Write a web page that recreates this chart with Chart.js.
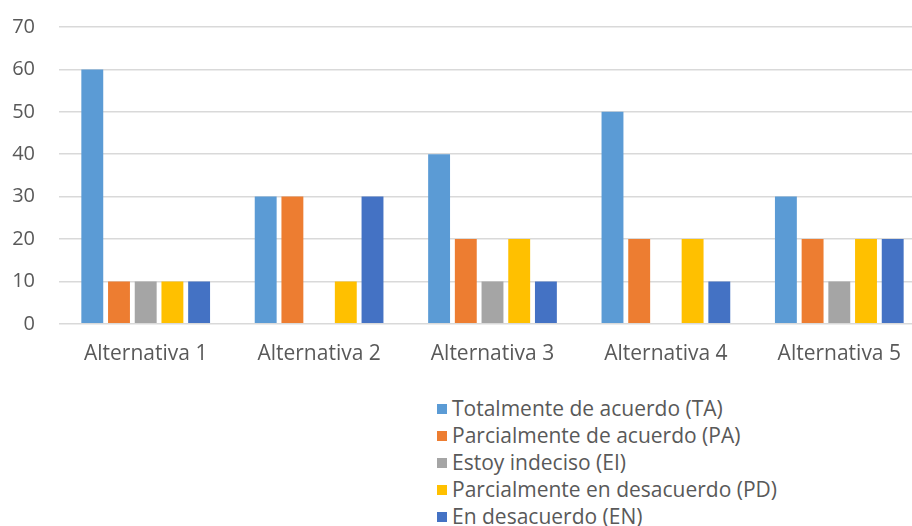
<!DOCTYPE html>
<html>
<head>
<meta charset="utf-8">
<script src="https://cdn.jsdelivr.net/npm/chart.js@4"></script>
<style>
    body { margin: 0; background: #fff; font-family: "Open Sans", sans-serif; }
    #wrap { position: relative; width: 912px; height: 526px; overflow: hidden; }
    #chart { position: absolute; left: 0; top: -9px; }
    #legend { position: absolute; left: 437px; top: 395px; }
    .item { height: 27px; line-height: 27px; font-size: 21px; color: #595959; white-space: nowrap; }
    .box { display: inline-block; width: 10px; height: 10px; margin-right: 5px; vertical-align: 2px; }
</style>
</head>
<body>
<div id="wrap">
    <canvas id="chart" width="926" height="394"></canvas>
    <div id="legend"></div>
</div>
<script>
// Chart data
const categories = ['Alternativa 1', 'Alternativa 2', 'Alternativa 3', 'Alternativa 4', 'Alternativa 5'];
const seriesNames = [
    'Totalmente de acuerdo (TA)',
    'Parcialmente de acuerdo (PA)',
    'Estoy indeciso (EI)',
    'Parcialmente en desacuerdo (PD)',
    'En desacuerdo (EN)'
];
const totalAcuerdo = [60, 30, 40, 50, 30];
const parcialAcuerdo = [10, 30, 20, 20, 20];
const indeciso = [10, 0, 10, 0, 10];
const parcialDesacuerdo = [10, 10, 20, 20, 20];
const desacuerdo = [10, 30, 10, 10, 20];
const yTicks = [0, 10, 20, 30, 40, 50, 60, 70];

const colors = ['#5B9BD5', '#ED7D31', '#A5A5A5', '#FFC000', '#4472C4'];
const values = [totalAcuerdo, parcialAcuerdo, indeciso, parcialDesacuerdo, desacuerdo];

const datasets = seriesNames.map((name, i) => ({
    label: name,
    data: values[i],
    backgroundColor: colors[i],
    borderWidth: 0,
    categoryPercentage: 0.77,
    barPercentage: 0.82
}));

// Vertical legend under the chart
const legend = document.getElementById('legend');
seriesNames.forEach((name, i) => {
    const row = document.createElement('div');
    row.className = 'item';
    row.innerHTML = `<span class="box" style="background:${colors[i]}"></span>${name}`;
    legend.appendChild(row);
});

const ctx = document.getElementById('chart').getContext('2d');
new Chart(ctx, {
    type: 'bar',
    data: {
        labels: categories,
        datasets: datasets
    },
    options: {
        responsive: false,
        animation: false,
        layout: {
            padding: { top: 12, right: 0, left: 0, bottom: 0 }
        },
        scales: {
            y: {
                min: 0,
                max: 70,
                afterBuildTicks: axis => {
                    axis.ticks = yTicks.map(v => ({ value: v }));
                },
                afterFit: axis => {
                    axis.width = 59;
                },
                ticks: {
                    color: '#595959',
                    padding: 24,
                    font: { family: 'Open Sans', size: 20 }
                },
                grid: {
                    color: '#d9d9d9',
                    lineWidth: 1.5,
                    drawTicks: false
                },
                border: { display: false }
            },
            x: {
                ticks: {
                    color: '#595959',
                    padding: 18,
                    font: { family: 'Open Sans', size: 21 }
                },
                grid: { display: false, drawTicks: false },
                border: { display: false }
            }
        },
        plugins: {
            legend: { display: false },
            tooltip: { enabled: false }
        }
    }
});
</script>
</body>
</html>
